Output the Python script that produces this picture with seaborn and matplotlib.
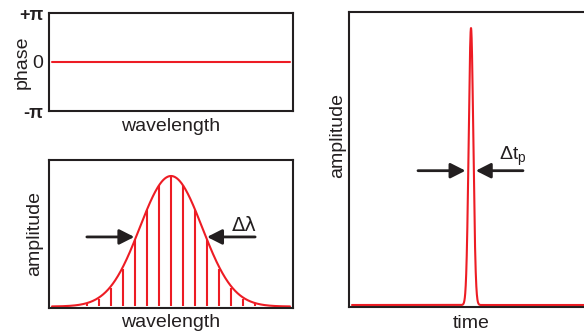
import numpy as np
import matplotlib
matplotlib.use("Agg")
import matplotlib.pyplot as plt
import seaborn as sns

# ---- data -------------------------------------------------------------
# spectral phase (flat) across the wavelength window
phase_wavelength = [-9.9, 9.9]
phase_value = [0.0, 0.0]

# spectral envelope (Gaussian) and frequency-comb lines
spectrum_center = 0.0
spectrum_fwhm = 6.1
spectrum_span = [-9.9, 9.9]
comb_lines = [-7, -6, -5, -4, -3, -2, -1, 0, 1, 2, 3, 4, 5, 6, 7]
comb_amplitude = [0.03, 0.06, 0.14, 0.29, 0.51, 0.74, 0.93, 1.00,
                  0.93, 0.74, 0.51, 0.29, 0.14, 0.06, 0.03]

# transform-limited pulse in time
pulse_center = 0.0
pulse_fwhm = 5.4
time_span = [-119.0, 122.0]

phase_ticks = [-np.pi, 0.0, np.pi]
phase_ticklabels = ["-\u03c0", "0", "+\u03c0"]

# ---- style ------------------------------------------------------------
sns.set_theme(style="white")
plt.rcParams["font.family"] = ["Liberation Sans", "DejaVu Sans"]
plt.rcParams["mathtext.default"] = "regular"

RED = "#ed1c24"
INK = "#231f20"
LW = 1.5
SPINE_LW = 1.5
FS = 14


def gaussian(x, center, fwhm):
    sigma = fwhm / (2.0 * np.sqrt(2.0 * np.log(2.0)))
    return np.exp(-0.5 * ((np.asarray(x) - center) / sigma) ** 2)


def frame(ax):
    for s in ax.spines.values():
        s.set_visible(True)
        s.set_linewidth(SPINE_LW)
        s.set_color(INK)
    ax.tick_params(length=0)
    ax.set_xticks([])


def arrow(ax, tail, tip):
    ax.annotate("", xy=tip, xytext=tail,
                arrowprops=dict(arrowstyle="-|>,head_length=0.75,head_width=0.38",
                                lw=2.0, color=INK, shrinkA=0, shrinkB=0,
                                mutation_scale=12))


def xlabel(ax, text, y, x=0.5):
    ax.text(x, y, text, transform=ax.transAxes, fontsize=FS, color=INK,
            ha="center", va="top")


def ylabel(ax, text, x, y=0.5):
    ax.text(x, y, text, transform=ax.transAxes, fontsize=FS, color=INK,
            ha="center", va="center", rotation=90, rotation_mode="anchor")


W, H = 584, 335
fig = plt.figure(figsize=(W / 100, H / 100), dpi=100)


def px_axes(left, top, right, bottom):
    return fig.add_axes([left / W, (H - bottom) / H, (right - left) / W, (bottom - top) / H])


# ---- spectral phase ---------------------------------------------------
ax_ph = px_axes(49, 13, 293, 111)
frame(ax_ph)
sns.lineplot(x=phase_wavelength, y=phase_value, ax=ax_ph, color=RED, lw=LW,
             estimator=None, sort=False)
ax_ph.set_xlim(-10.15, 10.15)
ax_ph.set_ylim(-np.pi, np.pi)
ax_ph.set_yticks(phase_ticks)
ax_ph.set_yticklabels(phase_ticklabels)
ax_ph.tick_params(axis="y", pad=4, labelsize=14, labelcolor=INK)
for lab in ax_ph.get_yticklabels():
    if lab.get_text() != "0":
        lab.set_fontweight("bold")
        lab.set_fontsize(13)
xlabel(ax_ph, "wavelength", -0.07)
ylabel(ax_ph, "phase", -0.11)

# ---- spectral amplitude -----------------------------------------------
ax_sp = px_axes(49, 160, 293, 308)
frame(ax_sp)
ax_sp.set_yticks([])
wl = np.linspace(spectrum_span[0], spectrum_span[1], 600)
sns.lineplot(x=wl, y=gaussian(wl, spectrum_center, spectrum_fwhm), ax=ax_sp,
             color=RED, lw=LW, estimator=None, sort=False)
ax_sp.vlines(comb_lines, 0, comb_amplitude, color=RED, lw=LW)
ax_sp.set_xlim(-10.15, 10.15)
ax_sp.set_ylim(-0.0115, 1.1226)
arrow(ax_sp, (-7.0, 0.533), (-3.05, 0.533))
arrow(ax_sp, (7.0, 0.533), (3.0, 0.533))
ax_sp.text(6.1, 0.62, "\u0394\u03bb", fontsize=FS, color=INK, ha="center", va="center",
           family=["DejaVu Sans"])
xlabel(ax_sp, "wavelength", -0.04)
ylabel(ax_sp, "amplitude", -0.057)

# ---- pulse in time ----------------------------------------------------
ax_t = px_axes(349, 12, 593, 307)
frame(ax_t)
ax_t.set_yticks([])
t = np.linspace(time_span[0], time_span[1], 4000)
sns.lineplot(x=t, y=gaussian(t, pulse_center, pulse_fwhm), ax=ax_t,
             color=RED, lw=LW, estimator=None, sort=False)
ax_t.set_xlim(-122, 122)
ax_t.set_ylim(-0.0072, 1.058)
arrow(ax_t, (-53, 0.485), (-5.5, 0.485))
arrow(ax_t, (52, 0.485), (4.8, 0.485))
ax_t.text(28, 0.523, "\u0394t$_{p}$", fontsize=FS, color=INK, ha="left", va="baseline")
xlabel(ax_t, "time", -0.027)
ylabel(ax_t, "amplitude", -0.045, 0.58)

fig.savefig("out.png", dpi=100)
